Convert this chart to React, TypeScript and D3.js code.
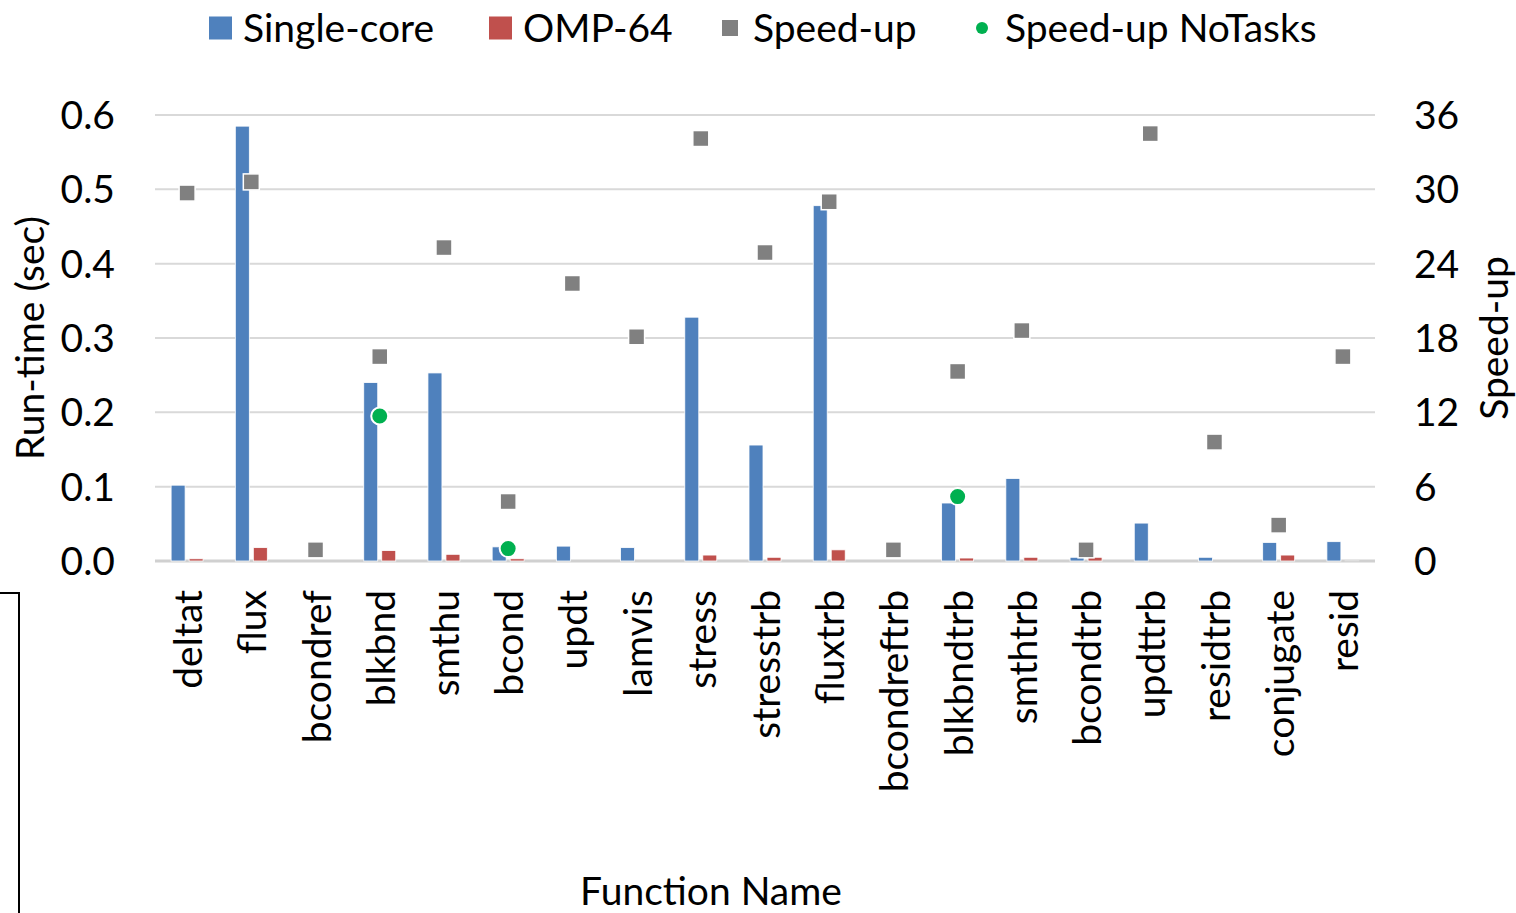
import React from "react";
import * as d3 from "d3";

const categories = [
  "deltat", "flux", "bcondref", "blkbnd", "smthu", "bcond", "updt", "lamvis",
  "stress", "stresstrb", "fluxtrb", "bcondreftrb", "blkbndtrb", "smthtrb",
  "bcondtrb", "updttrb", "residtrb", "conjugate", "resid",
];

const singleCore = [
  0.102, 0.585, 0, 0.240, 0.253, 0.019, 0.020, 0.018, 0.328, 0.156,
  0.478, 0, 0.078, 0.111, 0.005, 0.051, 0.005, 0.025, 0.026,
];

const omp64 = [
  0.003, 0.018, 0, 0.014, 0.009, 0.003, 0, 0, 0.008, 0.005,
  0.015, 0, 0.004, 0.005, 0.005, 0, 0, 0.008, 0.001,
];

const speedUp = [
  29.7, 30.6, 0.9, 16.5, 25.3, 4.8, 22.4, 18.1, 34.1, 24.9,
  29.0, 0.9, 15.3, 18.6, 0.9, 34.5, 9.6, 2.9, 16.5,
];

const speedUpNoTasks: (number | null)[] = [
  null, null, null, 11.7, null, 1.0, null, null, null, null,
  null, null, 5.2, null, null, null, null, null, null,
];

const leftTicks = [0, 0.1, 0.2, 0.3, 0.4, 0.5, 0.6];
const rightTicks = [0, 6, 12, 18, 24, 30, 36];

const BLUE = "#4f81bd";
const RED = "#c0504d";
const GRAY = "#808080";
const GREEN = "#00b050";
const FONT = "Lato, 'Open Sans', sans-serif";
const FS = 39;

export default function App() {
  const W = 1516;
  const H = 913;
  const left = 155;
  const right = 1375;
  const top = 115;
  const bottom = 561;

  const x = d3.scaleBand<string>().domain(categories).range([left, right]).padding(0);
  const yL = d3.scaleLinear().domain([0, 0.6]).range([bottom, top]);
  const yR = d3.scaleLinear().domain([0, 36]).range([bottom, top]);

  const barW = 14;
  const gap = 4;
  const sq = 16;

  const legend = [
    { label: "Single-core", kind: "rect", color: BLUE, x: 209, size: 23, tx: 243 },
    { label: "OMP-64", kind: "rect", color: RED, x: 489, size: 23, tx: 523 },
    { label: "Speed-up", kind: "rect", color: GRAY, x: 722, size: 16, tx: 753 },
    { label: "Speed-up NoTasks", kind: "dot", color: GREEN, x: 976, size: 12, tx: 1005 },
  ];

  return (
    <svg width={W} height={H} style={{ position: "absolute", left: 0, top: 0 }} fontFamily={FONT}>
      <rect x={0} y={0} width={W} height={H} fill="#fff" />

      {/* gridlines */}
      {leftTicks.map((t) => (
        <line key={t} x1={left} x2={right} y1={yL(t)} y2={yL(t)}
          stroke={t === 0 ? "#d0d0d0" : "#d9d9d9"} strokeWidth={t === 0 ? 3 : 2} />
      ))}

      {/* bars */}
      {categories.map((c, i) => {
        const cx = (x(c) as number) + x.bandwidth() / 2;
        return (
          <g key={c}>
            {singleCore[i] > 0 && (
              <rect x={cx - gap / 2 - barW} y={yL(singleCore[i])} width={barW}
                height={bottom - yL(singleCore[i])} fill={BLUE} stroke="#fff" strokeWidth={0.8} />
            )}
            {omp64[i] > 0 && (
              <rect x={cx + gap / 2} y={yL(omp64[i])} width={barW}
                height={bottom - yL(omp64[i])} fill={RED} stroke="#fff" strokeWidth={0.8}
                opacity={omp64[i] < 0.002 ? 0.3 : 1} />
            )}
          </g>
        );
      })}

      {/* speed-up markers */}
      {categories.map((c, i) => {
        const cx = (x(c) as number) + x.bandwidth() / 2;
        return (
          <rect key={"s" + c} x={cx - sq / 2} y={yR(speedUp[i]) - sq / 2} width={sq} height={sq}
            fill={GRAY} stroke="#fff" strokeWidth={1.5} />
        );
      })}
      {categories.map((c, i) => {
        const v = speedUpNoTasks[i];
        if (v == null) return null;
        const cx = (x(c) as number) + x.bandwidth() / 2;
        return <circle key={"n" + c} cx={cx} cy={yR(v)} r={8.5} fill={GREEN} stroke="#fff" strokeWidth={2} />;
      })}

      {/* left axis labels */}
      {leftTicks.map((t) => (
        <text key={"l" + t} x={115} y={yL(t)} dy="0.36em" textAnchor="end" fontSize={FS} fill="#000">
          {t.toFixed(1)}
        </text>
      ))}
      {/* right axis labels */}
      {rightTicks.map((t) => (
        <text key={"r" + t} x={1414} y={yR(t)} dy="0.36em" textAnchor="start" fontSize={FS} fill="#000">
          {t}
        </text>
      ))}

      {/* category labels */}
      {categories.map((c) => {
        const cx = (x(c) as number) + x.bandwidth() / 2;
        return (
          <text key={"c" + c} transform={`translate(${cx + 1},${590}) rotate(-90)`} dy="0.36em"
            textAnchor="end" fontSize={FS} fill="#000">
            {c}
          </text>
        );
      })}

      {/* axis titles */}
      <text transform={`translate(30,${(top + bottom) / 2}) rotate(-90)`} dy="0.36em"
        textAnchor="middle" fontSize={FS} fill="#000">Run-time (sec)</text>
      <text transform={`translate(1494,${(top + bottom) / 2}) rotate(-90)`} dy="0.36em"
        textAnchor="middle" fontSize={FS} fill="#000">Speed-up</text>
      <text x={711} y={905} textAnchor="middle" fontSize={FS} fill="#000">Function Name</text>

      {/* legend */}
      {legend.map((l) => (
        <g key={l.label}>
          {l.kind === "rect" ? (
            <rect x={l.x} y={28 - l.size / 2} width={l.size} height={l.size} fill={l.color} />
          ) : (
            <circle cx={l.x + 6} cy={28} r={6} fill={l.color} />
          )}
          <text x={l.tx} y={28} dy="0.36em" fontSize={FS} fill="#000">{l.label}</text>
        </g>
      ))}

      {/* frame fragment at lower left */}
      <polyline points="0,593 19,593 19,913" fill="none" stroke="#000" strokeWidth={2} />
    </svg>
  );
}
